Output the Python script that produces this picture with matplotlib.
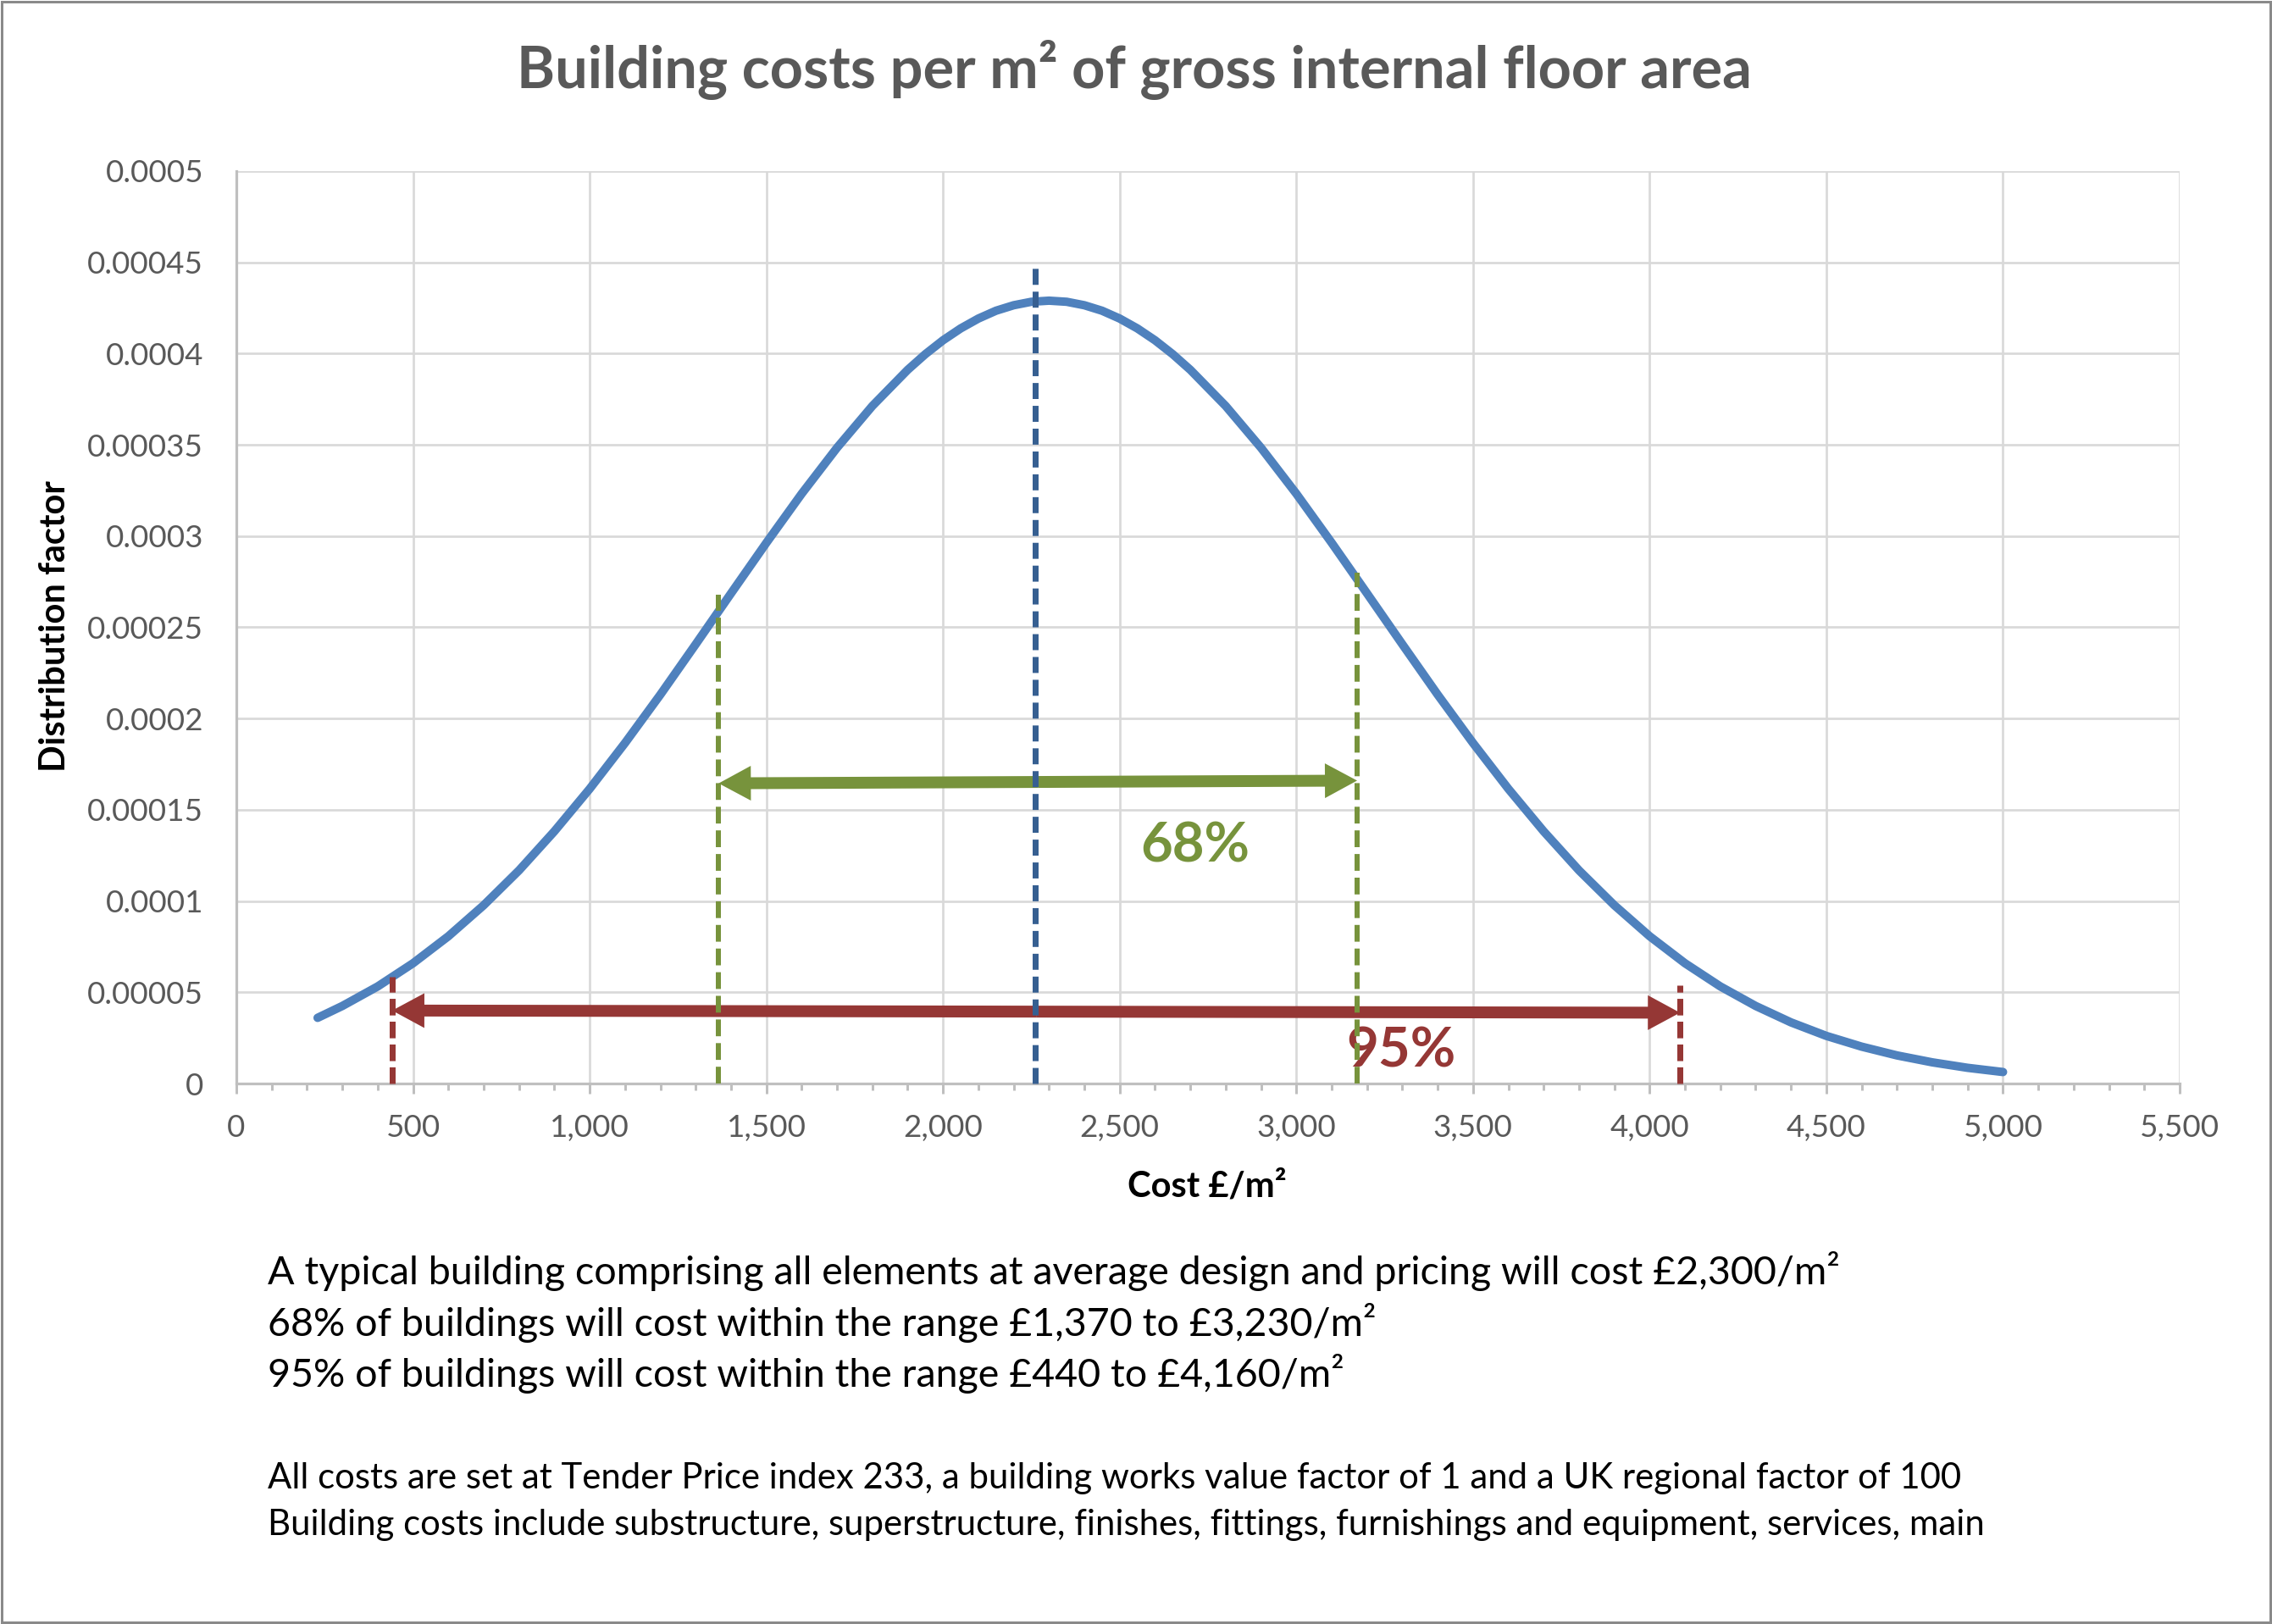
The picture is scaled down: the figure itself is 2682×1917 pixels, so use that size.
import matplotlib
matplotlib.use("Agg")
import matplotlib.pyplot as plt
from matplotlib.patches import FancyArrowPatch, Rectangle
from matplotlib.ticker import FixedLocator, FixedFormatter

plt.rcParams['font.family'] = ['Lato', 'DejaVu Sans']

# ---------------- data ----------------
cost = [230, 300, 400, 500, 600, 700, 800, 900, 1000, 1100, 1200, 1300, 1400,
        1500, 1600, 1700, 1800, 1900, 1950, 2000, 2050, 2100, 2150, 2200, 2250,
        2300, 2350, 2400, 2450, 2500, 2550, 2600, 2650,
        2700, 2800, 2900, 3000, 3100, 3200, 3300, 3400, 3500, 3600, 3700, 3800,
        3900, 4000, 4100, 4200, 4300, 4400, 4500, 4600, 4700, 4800, 4900, 5000]
density = [3.60e-5, 4.25e-5, 5.32e-5, 6.59e-5, 8.07e-5, 9.77e-5, 1.168e-4,
           1.382e-4, 1.615e-4, 1.866e-4, 2.131e-4, 2.407e-4, 2.686e-4, 2.963e-4,
           3.232e-4, 3.484e-4, 3.713e-4, 3.911e-4, 3.997e-4, 4.073e-4, 4.138e-4,
           4.192e-4, 4.235e-4, 4.265e-4, 4.284e-4,
           4.290e-4, 4.284e-4, 4.265e-4, 4.235e-4, 4.192e-4, 4.138e-4, 4.073e-4,
           3.997e-4,
           3.911e-4, 3.713e-4, 3.484e-4,
           3.232e-4, 2.963e-4, 2.686e-4, 2.407e-4, 2.131e-4, 1.866e-4, 1.615e-4,
           1.382e-4, 1.168e-4, 9.77e-5, 8.07e-5, 6.59e-5, 5.32e-5, 4.25e-5,
           3.35e-5, 2.61e-5, 2.02e-5, 1.54e-5, 1.16e-5, 8.6e-6, 6.3e-6]

mean_x = 2262
mean_top = 0.000448
band68_x = [1365, 3172]
band68_top = [0.000268, 0.000280]
band95_x = [441, 4086]
band95_top = [0.0000585, 0.0000539]

arrow68_y = [0.0001645, 0.000166]
arrow95_y = [0.0000400, 0.0000388]
label68 = ("68%", 2714, 0.000130)
label95 = ("95%", 3297, 0.0000175)

x_ticks = [0, 500, 1000, 1500, 2000, 2500, 3000, 3500, 4000, 4500, 5000, 5500]
x_ticklabels = ["0", "500", "1,000", "1,500", "2,000", "2,500", "3,000",
                "3,500", "4,000", "4,500", "5,000", "5,500"]
y_ticks = [0, 0.00005, 0.0001, 0.00015, 0.0002, 0.00025, 0.0003, 0.00035,
           0.0004, 0.00045, 0.0005]
y_ticklabels = ["0", "0.00005", "0.0001", "0.00015", "0.0002", "0.00025",
                "0.0003", "0.00035", "0.0004", "0.00045", "0.0005"]

title = "Building costs per m² of gross internal floor area"
x_title = "Cost £/m²"
y_title = "Distribution factor"
notes_main = [
    "A typical building comprising all elements at average design and pricing will cost £2,300/m²",
    "68% of buildings will cost within the range £1,370 to £3,230/m²",
    "95% of buildings will cost within the range £440 to £4,160/m²",
]
notes_small = [
    "All costs are set at Tender Price index 233, a building works value factor of 1 and a UK regional factor of 100",
    "Building costs include substructure, superstructure, finishes, fittings, furnishings and equipment, services, main",
]

# ---------------- styling ----------------
DPI = 100
PX = 72.0 / DPI  # points per pixel
BLUE = "#4F81BD"
DBLUE = "#365F91"
GREEN = "#77933C"
RED = "#953735"
GRID = "#D9D9D9"
AXIS = "#BFBFBF"
TICKTXT = "#595959"

fig = plt.figure(figsize=(26.82, 19.17), dpi=DPI)
fig.patch.set_facecolor("white")
fig.add_artist(Rectangle((0.0006, 0.0008), 0.9988, 0.9984, transform=fig.transFigure,
                         fill=False, edgecolor="#8A8A8A", linewidth=3 * PX))

ax = fig.add_axes([0.10403, 0.33281, 0.85533, 0.56182])
ax.set_xlim(0, 5500)
ax.set_ylim(0, 0.0005)

ax.xaxis.set_major_locator(FixedLocator(x_ticks))
ax.xaxis.set_major_formatter(FixedFormatter(x_ticklabels))
ax.xaxis.set_minor_locator(FixedLocator([v for v in range(0, 5501, 100) if v % 500]))
ax.yaxis.set_major_locator(FixedLocator(y_ticks))
ax.yaxis.set_major_formatter(FixedFormatter(y_ticklabels))

ax.grid(True, which="major", color=GRID, linewidth=2.7 * PX, zorder=0)
ax.set_axisbelow(True)
for s in ["top", "right"]:
    ax.spines[s].set_visible(False)
for s in ["left", "bottom"]:
    ax.spines[s].set_color(AXIS)
    ax.spines[s].set_linewidth(3.2 * PX)

ax.tick_params(axis="x", which="major", length=12 * PX, width=3 * PX, color=AXIS,
               labelsize=26.5, labelcolor=TICKTXT, pad=17.5)
ax.tick_params(axis="x", which="minor", length=8 * PX, width=3 * PX, color=AXIS)
ax.tick_params(axis="y", which="major", length=0, labelsize=26.5, labelcolor=TICKTXT, pad=28)

# main curve
ax.plot(cost, density, color=BLUE, linewidth=10 * PX, solid_capstyle="round",
        solid_joinstyle="round", zorder=3)


def double_arrow(x0, y0, x1, y1, color):
    style = "simple,head_length={:.2f},head_width={:.2f},tail_width={:.2f}".format(
        38 * PX, 41 * PX, 14 * PX)
    xm, ym = (x0 + x1) / 2.0, (y0 + y1) / 2.0
    for xe, ye in [(x0, y0), (x1, y1)]:
        ax.add_patch(FancyArrowPatch((xm, ym), (xe, ye), arrowstyle=style,
                                     mutation_scale=1, color=color, linewidth=0,
                                     shrinkA=0, shrinkB=0, zorder=4))


double_arrow(band68_x[0], arrow68_y[0], band68_x[1], arrow68_y[1], GREEN)
double_arrow(band95_x[0], arrow95_y[0], band95_x[1], arrow95_y[1], RED)

# dashed marker lines
ax.plot([mean_x, mean_x], [0, mean_top], color=DBLUE, linewidth=7 * PX,
        linestyle=(0, (2.7, 1.15)), zorder=5, clip_on=False)
for xv, tv in zip(band68_x, band68_top):
    ax.plot([xv, xv], [0, tv], color=GREEN, linewidth=6 * PX,
            linestyle=(0, (3.3, 1.35)), zorder=5, clip_on=False)
for xv, tv in zip(band95_x, band95_top):
    ax.plot([xv, xv], [0, tv], color=RED, linewidth=7 * PX,
            linestyle=(0, (2.8, 1.05)), zorder=5, clip_on=False)

ax.text(label68[1], label68[2], label68[0], color=GREEN, fontsize=47,
        fontweight="bold", ha="center", va="center", zorder=4)
ax.text(label95[1], label95[2], label95[0], color=RED, fontsize=47,
        fontweight="bold", ha="center", va="center", zorder=4)

# titles
fig.text(0.4993, 0.9572, title, ha="center", va="center", fontsize=49.3,
         fontweight="bold", color=TICKTXT)
fig.text(0.5313, 0.2692, x_title, ha="center", va="center", fontsize=30,
         fontweight="bold", color="black")
fig.text(0.0242, 0.6145, y_title, ha="center", va="center", fontsize=30,
         fontweight="bold", color="black", rotation=90)

# notes
for txt, yy in zip(notes_main, [0.2175, 0.1852, 0.1539]):
    fig.text(0.1178, yy, txt, ha="left", va="center", fontsize=33.6, color="black")
for txt, yy in zip(notes_small, [0.0897, 0.0610]):
    fig.text(0.1178, yy, txt, ha="left", va="center", fontsize=30.2, color="black")

fig.savefig("out.png", dpi=DPI, facecolor="white")
